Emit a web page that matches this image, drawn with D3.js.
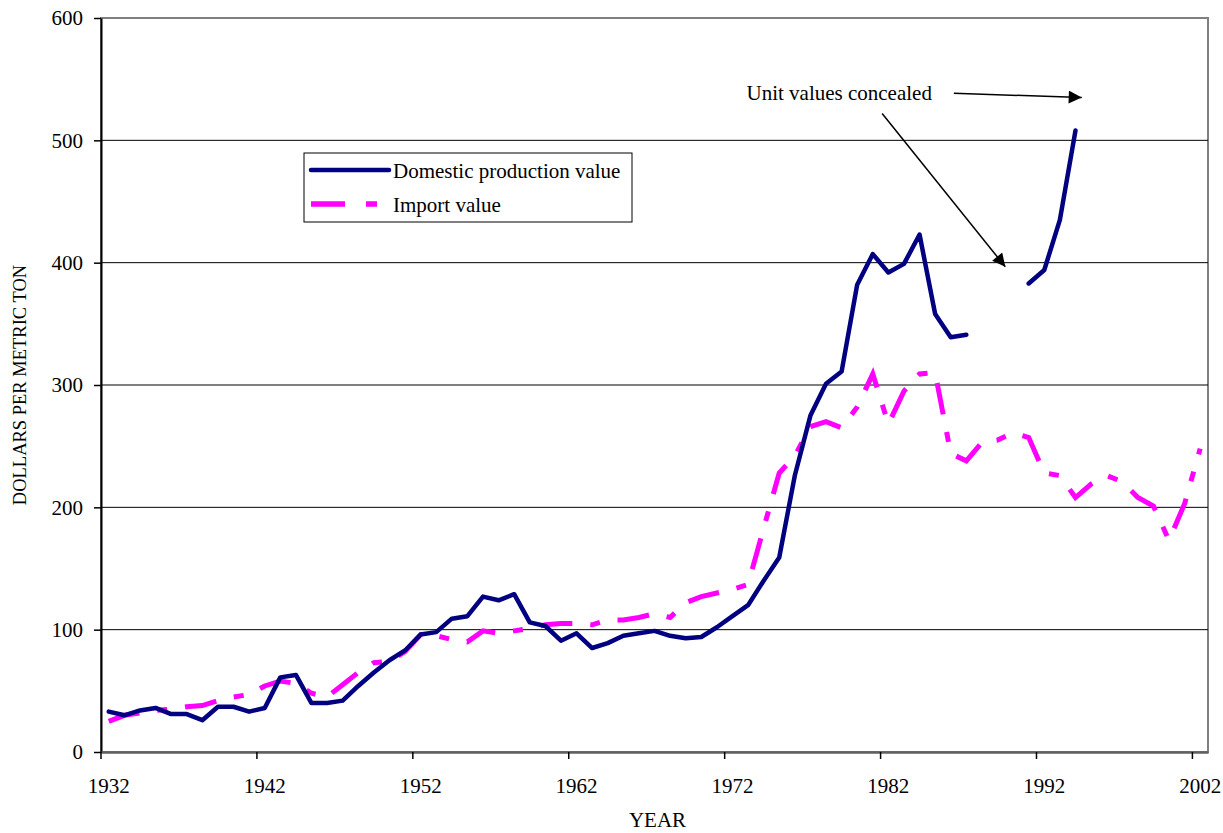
<!DOCTYPE html>
<html>
<head>
<meta charset="utf-8">
<script src="https://cdn.jsdelivr.net/npm/d3@7"></script>
<style>
    body { margin: 0; background: #fff; }
    text { font-family: "Liberation Serif", "Times New Roman", serif; fill: #000; }
</style>
</head>
<body>
<div id="chart"></div>
<script>
// categories: one per year
var years = [1932, 1933, 1934, 1935, 1936, 1937, 1938, 1939, 1940, 1941,
    1942, 1943, 1944, 1945, 1946, 1947, 1948, 1949, 1950, 1951,
    1952, 1953, 1954, 1955, 1956, 1957, 1958, 1959, 1960, 1961,
    1962, 1963, 1964, 1965, 1966, 1967, 1968, 1969, 1970, 1971,
    1972, 1973, 1974, 1975, 1976, 1977, 1978, 1979, 1980, 1981,
    1982, 1983, 1984, 1985, 1986, 1987, 1988, 1989, 1990, 1991,
    1992, 1993, 1994, 1995, 1996, 1997, 1998, 1999, 2000, 2001, 2002];

// dollars per metric ton, null = concealed / no data
var domesticValue = [33, 30, 34, 36, 31, 31, 26, 37, 37, 33,
    36, 61, 63, 40, 40, 42, 54, 65, 75, 83,
    96, 98, 109, 111, 127, 124, 129, 106, 103, 91,
    97, 85, 89, 95, 97, 99, 95, 93, 94, 102,
    111, 120, 140, 159, 226, 275, 301, 311, 382, 407,
    392, 399, 423, 358, 339, 341, null, null, null, 383,
    394, 435, 508, null, null, null, null, null, null, null, null];

var importValue = [25, 30, 32, 34, 35, 37, 38, 42, 45, 47,
    54, 58, 56, 48, 45, 55, 65, 73, 74, 82,
    96, 95, 92, 90, 99, 97, 99, 101, 104, 105,
    105, 104, 108, 108, 110, 113, 110, 122, 127, 130,
    133, 137, 183, 228, 242, 266, 270, 265, 282, 309,
    268, 295, 309, 310, 244, 238, 253, 255, 261, 257,
    228, 226, 208, 219, 226, 221, 208, 201, 173, 203, 248];

var yTicks = [0, 100, 200, 300, 400, 500, 600];
var xTickYears = [1932, 1942, 1952, 1962, 1972, 1982, 1992, 2002];
var seriesNames = ['Domestic production value', 'Import value'];
var noteText = 'Unit values concealed';

var navy = '#000080', magenta = '#ff00ff';
var importDash = '32,18,10,18';
var fontSize = '21px';

var margin = {top: 18, right: 15, bottom: 81, left: 101};
var width = 1223 - margin.left - margin.right,
    height = 833 - margin.top - margin.bottom;

var svg = d3.select('#chart').append('svg')
    .attr('width', 1223)
    .attr('height', 833)
    .append('g')
    .attr('transform', 'translate(' + margin.left + ',' + margin.top + ')');

var x = d3.scaleBand()
    .domain(years)
    .range([0, width])
    .padding(0);
var bw = x.bandwidth();

var y = d3.scaleLinear()
    .domain([0, 600])
    .range([height, 0]);

// position of a (fractional) year at the category centres
function xAt(yr) {
    return x(years[0]) + bw / 2 + (yr - years[0]) * bw;
}

// plot area frame
svg.append('rect')
    .attr('x', 0).attr('y', 0)
    .attr('width', width).attr('height', height)
    .style('fill', 'none')
    .style('stroke', '#808080')
    .style('stroke-width', 2);

// gridlines
svg.selectAll('.grid')
    .data(yTicks.filter(function (d) { return d > 0 && d < 600; }))
    .enter().append('line')
    .attr('class', 'grid')
    .attr('x1', 0).attr('x2', width)
    .attr('y1', function (d) { return y(d); })
    .attr('y2', function (d) { return y(d); })
    .style('stroke', '#000')
    .style('stroke-width', 1);

// y axis
var yAxis = svg.append('g')
    .call(d3.axisLeft(y).tickValues(yTicks).tickSize(7).tickSizeOuter(0).tickPadding(11));
yAxis.select('.domain').style('stroke', '#000').style('stroke-width', 2);
yAxis.selectAll('line').style('stroke', '#000').style('stroke-width', 1.5);
yAxis.selectAll('text')
    .style('font-family', '"Liberation Serif", serif')
    .style('font-size', fontSize);

// x axis: ticks at category edges, labels at centres
var xAxis = svg.append('g')
    .attr('transform', 'translate(0,' + height + ')')
    .call(d3.axisBottom(x).tickValues(xTickYears).tickSize(7).tickSizeOuter(0).tickPadding(19));
xAxis.select('.domain').style('stroke', '#606060').style('stroke-width', 2.5);
xAxis.selectAll('.tick line')
    .attr('x1', -bw / 2).attr('x2', -bw / 2)
    .style('stroke', '#000').style('stroke-width', 1.5);
xAxis.selectAll('text')
    .style('font-family', '"Liberation Serif", serif')
    .style('font-size', fontSize);

// axis titles
svg.append('text')
    .attr('x', width / 2 + 3)
    .attr('y', height + margin.bottom - 6)
    .attr('text-anchor', 'middle')
    .style('font-size', fontSize)
    .text('YEAR');

svg.append('text')
    .attr('transform', 'rotate(-90)')
    .attr('x', -(height / 2))
    .attr('y', -margin.left + 26)
    .attr('text-anchor', 'middle')
    .style('font-size', '18.5px')
    .text('DOLLARS PER METRIC TON');

// series
var line = d3.line()
    .defined(function (d) { return d.v != null; })
    .x(function (d) { return x(d.year) + bw / 2; })
    .y(function (d) { return y(d.v); });

var importData = years.map(function (yr, i) { return {year: yr, v: importValue[i]}; });
var domesticData = years.map(function (yr, i) { return {year: yr, v: domesticValue[i]}; });

svg.append('path')
    .datum(importData)
    .attr('d', line)
    .style('fill', 'none')
    .style('stroke', magenta)
    .style('stroke-width', 5)
    .style('stroke-dasharray', importDash)
    .style('stroke-linejoin', 'miter');

svg.append('path')
    .datum(domesticData)
    .attr('d', line)
    .style('fill', 'none')
    .style('stroke', navy)
    .style('stroke-width', 4.5)
    .style('stroke-linejoin', 'round')
    .style('stroke-linecap', 'round');

// legend
var legend = svg.append('g')
    .attr('transform', 'translate(' + (304 - margin.left) + ',' + (153 - margin.top) + ')');
legend.append('rect')
    .attr('width', 328).attr('height', 69)
    .style('fill', '#fff')
    .style('stroke', '#000')
    .style('stroke-width', 1);
var legendItems = legend.selectAll('.leg')
    .data(seriesNames)
    .enter().append('g')
    .attr('class', 'leg')
    .attr('transform', function (d, i) { return 'translate(0,' + (17 + i * 34) + ')'; });
legendItems.append('line')
    .attr('x1', 7).attr('x2', 85)
    .style('stroke', function (d, i) { return i === 0 ? navy : magenta; })
    .style('stroke-width', function (d, i) { return i === 0 ? 4.5 : 5.5; })
    .style('stroke-dasharray', function (d, i) { return i === 0 ? null : '34,21,11,21'; })
    .style('stroke-linecap', function (d, i) { return i === 0 ? 'round' : 'butt'; });
legendItems.append('text')
    .attr('x', 89)
    .attr('y', 8)
    .style('font-size', fontSize)
    .text(function (d) { return d; });

// annotation
var defs = svg.append('defs');
defs.append('marker')
    .attr('id', 'arrow')
    .attr('viewBox', '0 0 10 10')
    .attr('refX', 10).attr('refY', 5)
    .attr('markerUnits', 'userSpaceOnUse')
    .attr('markerWidth', 17).attr('markerHeight', 13)
    .attr('orient', 'auto')
    .append('path')
    .attr('d', 'M0,0L10,5L0,10z')
    .style('fill', '#000');

svg.append('text')
    .attr('x', xAt(1972.9))
    .attr('y', y(533))
    .style('font-size', fontSize)
    .text(noteText);

var arrows = [
    {from: [1986.2, 538.5], to: [1994.4, 535]},
    {from: [1981.6, 522], to: [1989.5, 396.6]}
];
svg.selectAll('.arrow')
    .data(arrows)
    .enter().append('line')
    .attr('class', 'arrow')
    .attr('x1', function (d) { return xAt(d.from[0]); })
    .attr('y1', function (d) { return y(d.from[1]); })
    .attr('x2', function (d) { return xAt(d.to[0]); })
    .attr('y2', function (d) { return y(d.to[1]); })
    .style('stroke', '#000')
    .style('stroke-width', 1.5)
    .attr('marker-end', 'url(#arrow)');
</script>
</body>
</html>
